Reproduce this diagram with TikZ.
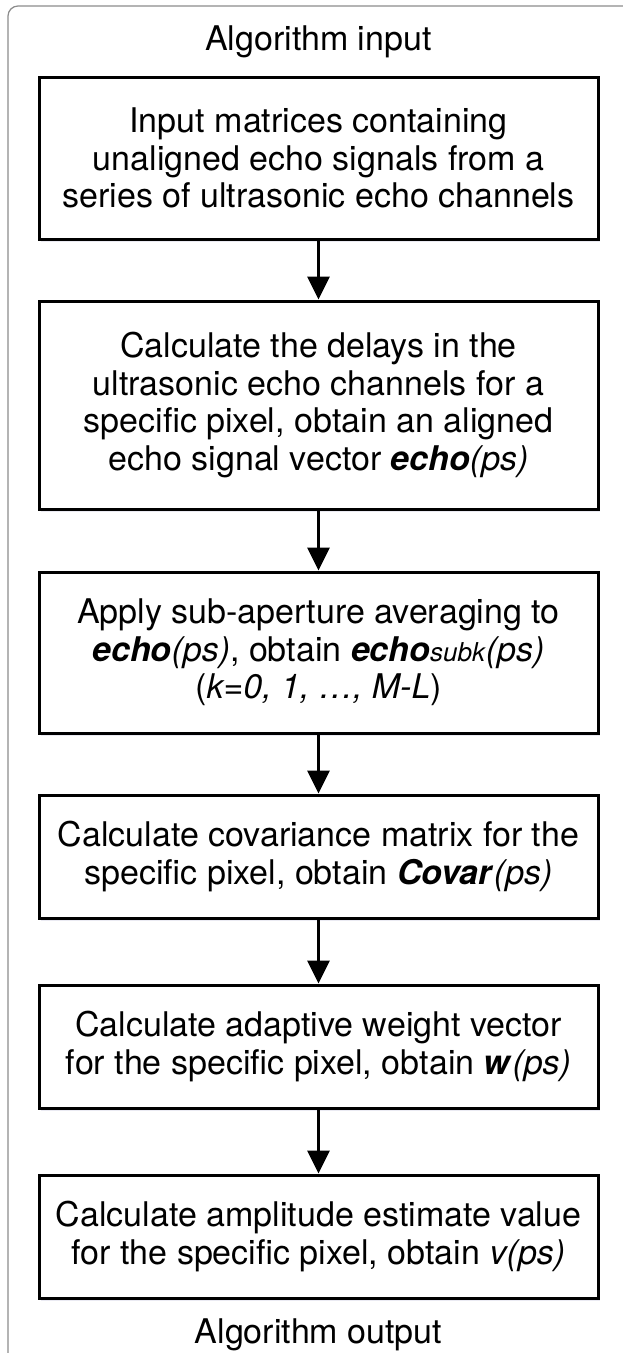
\documentclass[tikz,border=0pt]{standalone}
\usepackage{fontspec}
\setmainfont{TeX Gyre Heros}
\usetikzlibrary{arrows.meta,shadows}
\begin{document}
\begin{tikzpicture}[x=1pt,y=-1pt,
  every node/.style={font=\fontsize{34}{37.5}\selectfont},
  stepbox/.style={draw=black, line width=3pt, fill=white, minimum width=559pt,
    align=center, inner sep=0pt,
    drop shadow={shadow xshift=2pt, shadow yshift=-3pt, opacity=0.18, fill=blue!25!gray!70}},
  arr/.style={line width=3pt, -{Triangle[width=22pt,length=23pt]}},
  lbl/.style={inner sep=0pt}
]
\useasboundingbox (0,0) rectangle (623,1353);
\fill[white] (0,0) rectangle (623,1353);
\draw[draw=black!45, line width=1.2pt, rounded corners=10pt] (8,6) rectangle (650,1380);

\node[lbl] (in) at (318.5,42) {Algorithm input};
\node[lbl] (out) at (318.5,1335) {Algorithm output};

\node[stepbox, minimum height=162pt] (b1) at (318.5,158)
  {Input matrices containing\\ unaligned echo signals from a\\ series of ultrasonic echo channels};
\node[stepbox, minimum height=208pt] (b2) at (318.5,405)
  {Calculate the delays in the\\ ultrasonic echo channels for a\\ specific pixel, obtain an aligned\\ echo signal vector \textbf{\textit{echo}}\textit{(ps)}};
\node[stepbox, minimum height=161pt] (b3) at (318.5,652.5)
  {Apply sub-aperture averaging to\\ \textbf{\textit{echo}}\textit{(ps)}, obtain \textbf{\textit{echo}}{\fontsize{26}{30}\selectfont\textit{subk}}\textit{(ps)}\\ (\textit{k=0, 1, …, M-L})};
\node[stepbox, minimum height=123pt] (b4) at (318.5,856.5)
  {Calculate covariance matrix for the\\ specific pixel, obtain \textbf{\textit{Covar}}\textit{(ps)}};
\node[stepbox, minimum height=123pt] (b5) at (318.5,1046.5)
  {Calculate adaptive weight vector\\ for the specific pixel, obtain \textbf{\textit{w}}\textit{(ps)}};
\node[stepbox, minimum height=123pt] (b6) at (318.5,1236.5)
  {Calculate amplitude estimate value\\ for the specific pixel, obtain \textit{v(ps)}};

\draw[arr] (b1) -- (b2);
\draw[arr] (b2) -- (b3);
\draw[arr] (b3) -- (b4);
\draw[arr] (b4) -- (b5);
\draw[arr] (b5) -- (b6);
\end{tikzpicture}
\end{document}
